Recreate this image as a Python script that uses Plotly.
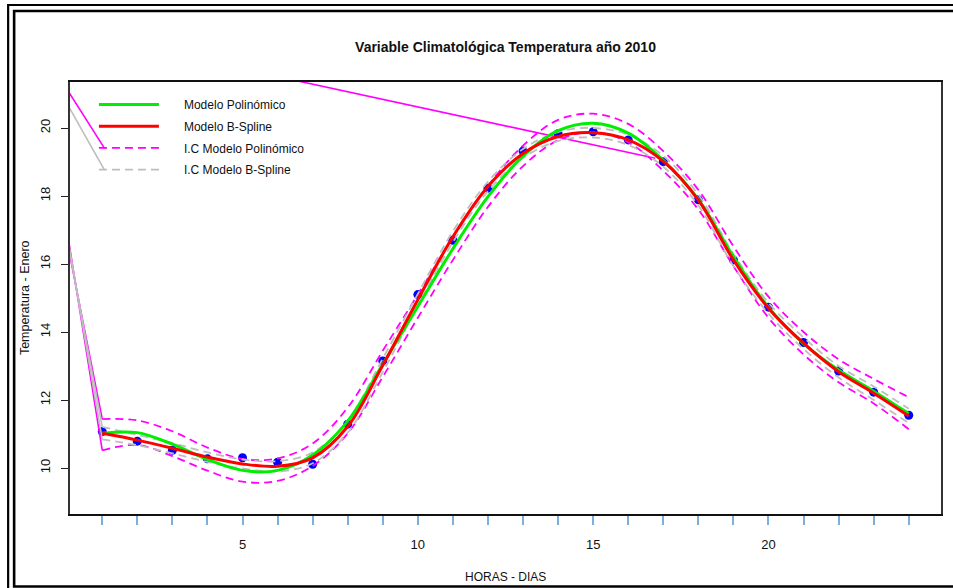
import plotly.graph_objects as go

# ---------------- data ----------------
hours = list(range(1, 25))

observed = [11.07, 10.79, 10.52, 10.27, 10.30, 10.17, 10.11, 11.29, 13.15, 15.10, 16.70, 18.23,
            19.32, 19.83, 19.89, 19.65, 19.01, 17.89, 16.12, 14.73, 13.69, 12.85, 12.23, 11.55]

poly_fit = [11.02, 11.04, 10.70, 10.25, 9.93, 9.93, 10.38, 11.38, 13.05, 14.75, 16.45, 17.98,
            19.17, 19.92, 20.14, 19.85, 19.05, 17.90, 16.22, 14.72, 13.66, 12.88, 12.26, 11.60]

bspline_fit = [11.02, 10.82, 10.58, 10.32, 10.12, 10.05, 10.30, 11.22, 13.02, 14.95, 16.80, 18.28,
               19.25, 19.75, 19.86, 19.65, 19.02, 17.88, 16.12, 14.70, 13.67, 12.83, 12.20, 11.53]

poly_ci_up = [11.44, 11.40, 11.08, 10.60, 10.27, 10.28, 10.72, 11.78, 13.45, 15.10, 16.78, 18.30,
              19.48, 20.24, 20.42, 20.12, 19.32, 18.18, 16.52, 15.04, 14.00, 13.20, 12.62, 12.08]
poly_ci_low = [10.52, 10.68, 10.35, 9.92, 9.60, 9.62, 10.06, 11.02, 12.68, 14.42, 16.12, 17.68,
               18.88, 19.64, 19.88, 19.58, 18.74, 17.60, 15.94, 14.42, 13.34, 12.52, 11.90, 11.14]

bspline_ci_up = [11.21, 10.97, 10.73, 10.46, 10.25, 10.20, 10.46, 11.40, 13.22, 15.12, 16.96, 18.42,
                 19.38, 19.88, 20.00, 19.80, 19.18, 18.04, 16.30, 14.86, 13.84, 13.00, 12.40, 11.74]
bspline_ci_low = [10.84, 10.67, 10.43, 10.18, 9.99, 9.90, 10.14, 11.04, 12.82, 14.78, 16.64, 18.14,
                  19.12, 19.62, 19.72, 19.50, 18.86, 17.72, 15.94, 14.54, 13.50, 12.66, 12.00, 11.32]

# stray straight segments that the original drawing contains
stray_poly_x = [[0, 1], [0, 1], [0, 1.065], [0, 16.77]]
stray_poly_y = [[16.65, 11.44], [16.95, 10.52], [21.13, 19.40], [22.85, 19.11]]
stray_bs_x = [[0, 1], [0, 1], [0, 1.065]]
stray_bs_y = [[16.75, 11.21], [16.85, 10.84], [20.71, 18.76]]

x_tick_values = list(range(1, 25))
x_tick_labels = ["" if h % 5 else str(h) for h in x_tick_values]
y_tick_values = [10, 12, 14, 16, 18, 20]

title_text = "Variable Climatológica Temperatura año 2010"
x_title = "HORAS - DIAS"
y_title = "Temperatura - Enero"
names = ["Modelo Polinómico", "Modelo B-Spline", "I.C Modelo Polinómico", "I.C Modelo B-Spline"]

# ---------------- figure ----------------
W, H = 953, 588
L, R, T, B = 70, 10, 82, 74
PW, PH = W - L - R, H - T - B

def px(x):
    return (x - L) / PW

def py(y):
    return (H - B - y) / PH

REG = "Liberation Sans, Arial, sans-serif"

MAG = "#ff00ff"
GRAY = "#bebebe"
NB = "\u00a0"
PAD = NB * 6

fig = go.Figure()

fig.add_trace(go.Scatter(x=hours, y=observed, mode="markers",
                         marker=dict(color="#0000ff", size=9, symbol="circle"),
                         showlegend=False, hoverinfo="skip"))

for sx, sy in zip(stray_poly_x, stray_poly_y):
    fig.add_trace(go.Scatter(x=sx, y=sy, mode="lines", line=dict(color=MAG, width=1.6),
                             showlegend=False, hoverinfo="skip"))
for sx, sy in zip(stray_bs_x, stray_bs_y):
    fig.add_trace(go.Scatter(x=sx, y=sy, mode="lines", line=dict(color=GRAY, width=1.6),
                             showlegend=False, hoverinfo="skip"))

fig.add_trace(go.Scatter(x=hours, y=poly_ci_up, mode="lines", name=PAD + names[2],
                         line=dict(color=MAG, width=1.8, dash="8px,5px", shape="spline"),
                         legendgroup="c", legendrank=3))
fig.add_trace(go.Scatter(x=hours, y=poly_ci_low, mode="lines", showlegend=False,
                         line=dict(color=MAG, width=1.8, dash="8px,5px", shape="spline"),
                         legendgroup="c"))
fig.add_trace(go.Scatter(x=hours, y=bspline_ci_up, mode="lines", name=PAD + names[3],
                         line=dict(color=GRAY, width=1.8, dash="8px,5px", shape="spline"),
                         legendgroup="d", legendrank=4))
fig.add_trace(go.Scatter(x=hours, y=bspline_ci_low, mode="lines", showlegend=False,
                         line=dict(color=GRAY, width=1.8, dash="8px,5px", shape="spline"),
                         legendgroup="d"))
fig.add_trace(go.Scatter(x=hours, y=poly_fit, mode="lines", name=PAD + names[0],
                         line=dict(color="#00ee00", width=3, shape="spline"),
                         legendgroup="a", legendrank=1))
fig.add_trace(go.Scatter(x=hours, y=bspline_fit, mode="lines", name=PAD + names[1],
                         line=dict(color="#ff0000", width=3, shape="spline"),
                         legendgroup="b", legendrank=2))

# double frame around the picture
fig.add_shape(type="rect", xref="paper", yref="paper",
              x0=px(8), x1=px(962), y0=py(5), y1=py(598),
              line=dict(color="black", width=2.2), fillcolor="rgba(0,0,0,0)")
fig.add_shape(type="rect", xref="paper", yref="paper",
              x0=px(14), x1=px(958), y0=py(11), y1=py(586.5),
              line=dict(color="black", width=2.6), fillcolor="rgba(0,0,0,0)")

fig.add_annotation(text=x_title, xref="paper", yref="paper", x=0.5, y=py(577),
                   showarrow=False, xanchor="center", yanchor="middle",
                   font=dict(family=REG, size=12, color="#111"))
fig.add_annotation(text=y_title, xref="paper", yref="paper", x=px(25), y=0.5,
                   showarrow=False, xanchor="center", yanchor="middle", textangle=-90,
                   font=dict(family=REG, size=12.5, color="#111"))

fig.update_layout(
    width=W, height=H,
    margin=dict(l=L, r=R, t=T, b=B),
    paper_bgcolor="white", plot_bgcolor="white",
    title=dict(text="<b>" + title_text + "</b>", x=0.5, xref="paper", xanchor="center",
               y=1 - 47 / H, yref="container", yanchor="middle",
               font=dict(family=REG, size=14, color="#111")),
    showlegend=True,
    legend=dict(x=px(94), y=py(90), xanchor="left", yanchor="top",
                bgcolor="rgba(0,0,0,0)", borderwidth=0, itemwidth=60,
                tracegroupgap=2.7,
                font=dict(family=REG, size=12, color="#111")),
    xaxis=dict(range=[0.08, 24.92], showgrid=False, zeroline=False,
               showline=True, linecolor="#111", linewidth=2, mirror=True,
               ticks="outside", ticklen=9, tickwidth=1.5, tickcolor="#7eaedb",
               tickmode="array", tickvals=x_tick_values, ticktext=x_tick_labels,
               ticklabelstandoff=8,
               tickfont=dict(family=REG, size=13, color="#111")),
    yaxis=dict(range=[8.647, 21.353], showgrid=False, zeroline=False,
               showline=True, linecolor="#333", linewidth=2, mirror=True,
               ticks="outside", ticklen=7, tickwidth=1.3, tickcolor="#222",
               tickmode="array", tickvals=y_tick_values,
               tickangle=-90, ticklabelstandoff=6,
               tickfont=dict(family=REG, size=13, color="#111")),
)

fig.write_html("out.html")
